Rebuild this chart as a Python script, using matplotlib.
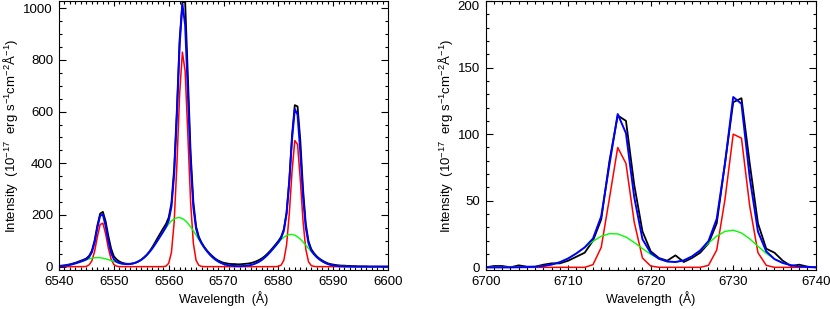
import numpy as np
import matplotlib
matplotlib.use('Agg')
from matplotlib import pyplot as plt
from matplotlib.ticker import MultipleLocator

plt.rcParams['font.family'] = ['Liberation Sans', 'DejaVu Sans']
plt.rcParams['mathtext.default'] = 'regular'

# ---- left panel: H-alpha + [NII] (0.5 A sampling) ----
wave1 = np.arange(6540, 6600.25, 0.5)

narrow1 = [0, 0, 0, 0, 0, 0, 0, 0, 0, 0,
           1, 7, 23, 60, 116, 163, 168, 127, 71, 29,
           8, 2, 0, 0, 0, 0, 0, 0, 0, 0,
           0, 0, 0, 0, 0, 0, 0, 0, 0, 2,
           13, 55, 172, 396, 669, 830, 757, 507, 249, 90,
           24, 5, 1, 0, 0, 0, 0, 0, 0, 0,
           0, 0, 0, 0, 0, 0, 0, 0, 0, 0,
           0, 0, 0, 0, 0, 0, 0, 0, 0, 0,
           1, 6, 25, 84, 206, 370, 488, 473, 337, 176,
           68, 19, 4, 1, 0, 0, 0, 0, 0, 0,
           0, 0, 0, 0, 0, 0, 0, 0, 0, 0,
           0, 0, 0, 0, 0, 0, 0, 0, 0, 0,
           0]

broad1 = [1.5, 2.4, 3.5, 5.1, 7.1, 9.6, 12.6, 16.0, 19.7, 23.5,
          27.1, 30.3, 32.8, 34.4, 35.0, 34.4, 32.8, 30.3, 27.3, 23.8,
          20.2, 16.8, 13.8, 11.5, 10.1, 9.6, 10.2, 12.1, 15.2, 20.0,
          26.3, 34.5, 44.5, 56.5, 70.1, 85.4, 101.8, 118.6, 135.4, 151.1,
          165.1, 176.6, 184.8, 189.3, 189.7, 186.0, 178.5, 167.7, 154.1, 138.6,
          122.0, 105.1, 88.6, 73.1, 59.0, 46.6, 36.0, 27.3, 20.2, 14.6,
          10.4, 7.2, 5.0, 3.4, 2.4, 1.9, 1.8, 2.2, 3.0, 4.4,
          6.5, 9.6, 13.8, 19.3, 26.2, 34.8, 44.8, 56.0, 68.3, 80.8,
          93.2, 104.4, 113.8, 120.6, 124.4, 124.7, 121.6, 115.4, 106.5, 95.5,
          83.4, 70.8, 58.4, 46.9, 36.6, 27.8, 20.6, 14.8, 10.3, 7.0,
          4.6, 3.0, 1.9, 1.1, 0.7, 0.4, 0.2, 0, 0, 0,
          0, 0, 0, 0, 0, 0, 0, 0, 0, 0,
          0]

obs1 = [3, 4, 5, 7, 9, 12, 15, 19, 23, 27,
        32, 42, 62, 102, 160, 205, 212, 175, 118, 70,
        40, 28, 20, 15, 12, 11, 11, 13, 16, 21,
        27, 36, 46, 59, 75, 93, 112, 130, 148, 165,
        190, 245, 380, 610, 880, 1022, 1026, 735, 440, 250,
        155, 115, 93, 76, 62, 50, 40, 31, 24, 19,
        15, 13, 11, 10, 10, 9, 9, 10, 11, 12,
        14, 17, 21, 26, 32, 40, 50, 61, 73, 86,
        99, 115, 145, 210, 335, 510, 625, 620, 490, 300,
        165, 98, 68, 52, 40, 31, 24, 18, 13, 10,
        8, 6, 5, 4, 4, 3, 3, 2, 2, 1,
        1, 1, 1, 0, 0, 0, 0, 0, 0, 0,
        0]

# ---- right panel: [SII] doublet (1 A sampling) ----
wave2 = np.arange(6700, 6741, 1)

narrow2 = [0, 0, 0, 0, 0, 0, 0, 0, 0, 0,
           0, 0, 0, 2, 15, 52, 90, 78, 34, 7,
           1, 0, 0, 0, 0, 0, 0, 1.5, 13, 51,
           100, 97, 46, 11, 1.5, 0, 0, 0, 0, 0,
           0]

broad2 = [0, 0, 0, 0, 0.1, 0.2, 0.4, 1.0, 2.1, 3.9,
          6.7, 10.5, 15.0, 19.6, 23.3, 25.3, 25.1, 22.7, 18.7, 14.1,
          9.8, 6.4, 4.4, 4.0, 5.2, 8.2, 12.7, 18.2, 23.4, 27.0,
          27.9, 25.8, 21.4, 15.8, 10.5, 6.2, 3.3, 1.6, 0.7, 0.3,
          0.1]

obs2 = [0, 1, 1, 0, 1.5, 0.5, 0.5, 2, 3, 3,
        5, 8, 11, 20, 36, 80, 114, 110, 62, 27,
        12, 7, 5, 9, 4, 7, 11, 18, 33, 78,
        124, 127, 78, 33, 14, 11, 5, 1, 2, 0.5,
        0]

# total fit = narrow + broad components
total1 = np.array(narrow1) + np.array(broad1)
total2 = np.array(narrow2) + np.array(broad2)

ylab = 'Intensity  (10$^{-17}$  erg s$^{-1}$cm$^{-2}$Å$^{-1}$)'

fig = plt.figure(figsize=(8.3, 3.09), dpi=100)
ax1 = fig.add_axes([0.0711, 0.1262, 0.3964, 0.8706])
ax2 = fig.add_axes([0.5852, 0.1262, 0.3976, 0.8706])

panels = [(ax1, wave1, obs1, narrow1, broad1, total1, (6540, 6600), (-13, 1028), 200, 50),
          (ax2, wave2, obs2, narrow2, broad2, total2, (6700, 6740), (-2, 200), 50, 10)]

for ax, w, obs, nar, brd, tot, xl, yl, ymaj, ymin in panels:
    ax.plot(w, obs, color='black', lw=1.3)
    ax.plot(w, nar, color='#ff0000', lw=1.1)
    ax.plot(w, brd, color='#00ff00', lw=1.0)
    ax.plot(w, tot, color='#0000ff', lw=1.4)
    ax.set_xlim(*xl)
    ax.set_ylim(*yl)
    ax.xaxis.set_major_locator(MultipleLocator(10))
    ax.xaxis.set_minor_locator(MultipleLocator(1))
    ax.yaxis.set_major_locator(MultipleLocator(ymaj))
    ax.yaxis.set_minor_locator(MultipleLocator(ymin))
    ax.tick_params(which='both', direction='in', top=True, right=True,
                   labelsize=9.5, width=0.8)
    ax.xaxis.set_tick_params(which='major', length=3.9, pad=4.0)
    ax.xaxis.set_tick_params(which='minor', length=2.0)
    ax.yaxis.set_tick_params(which='major', length=4.7, pad=4.3)
    ax.yaxis.set_tick_params(which='minor', length=2.4)
    for sp in ax.spines.values():
        sp.set_linewidth(0.8)
    ax.set_xlabel('Wavelength  (Å)', fontsize=9)
    ax.xaxis.set_label_coords(0.5, -0.079)
    ax.set_ylabel(ylab, fontsize=9.5)

ax1.yaxis.set_label_coords(-0.118, 0.5)
ax2.yaxis.set_label_coords(-0.093, 0.5)
ax2.set_yticks([0, 50, 100, 150, 200])
ax2.get_yticklabels()[-1].set_va('top')

plt.savefig('out.png', dpi=100)
plt.close()
